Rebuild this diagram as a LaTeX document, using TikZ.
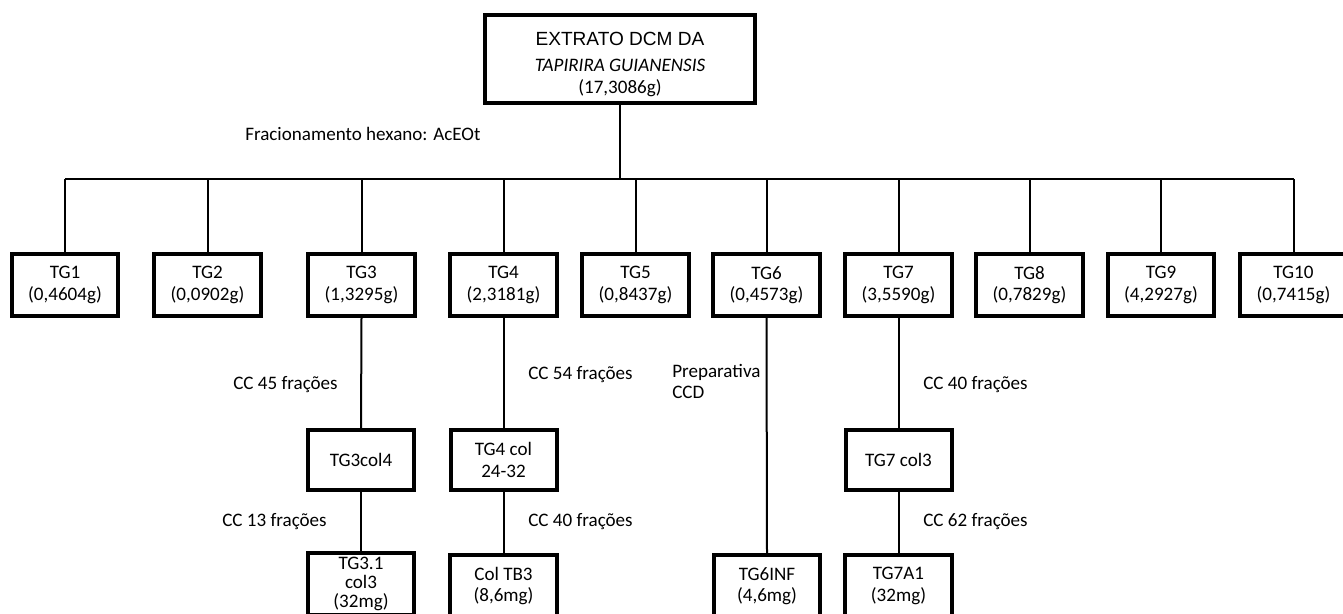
\documentclass[tikz,border=0pt]{standalone}
\usepackage{fontspec}
\setmainfont{Carlito}
\newfontfamily\arialf{Liberation Sans}
\begin{document}
\begin{tikzpicture}[x=0.75pt,y=-0.75pt,
  txt/.style={font=\fontsize{14.3}{16}\selectfont},
  box/.style={txt, draw, line width=3pt, rectangle, align=center, inner sep=0pt},
  rowbox/.style={box, minimum width=80pt, minimum height=46.5pt},
  subbox/.style={box, minimum width=79.5pt, minimum height=45pt},
  conn/.style={line width=1.5pt},
  lbl/.style={txt, inner sep=0pt, anchor=west, align=left}]
\useasboundingbox (0,0) rectangle (1343,614);
\clip (0,0) rectangle (1343,614);
% top
\node[box, minimum width=202.5pt, minimum height=66pt] (top) at (620,59)
  {\rule{0pt}{18pt}{\arialf\fontsize{14.3}{16}\selectfont EXTRATO DCM DA}\\[3.5pt]\textit{TAPIRIRA GUIANENSIS}\\(17,3086g)};
\coordinate (bus) at (620,179);
% row
\node[rowbox] (tg1) at (65,285) {TG1\\(0,4604g)};
\node[rowbox] (tg2) at (207.5,285) {TG2\\(0,0902g)};
\node[rowbox] (tg3) at (361.5,285) {TG3\\(1,3295g)};
\node[rowbox] (tg4) at (503.5,285) {TG4\\(2,3181g)};
\node[rowbox] (tg5) at (635.5,285) {TG5\\(0,8437g)};
\node[rowbox] (tg6) at (766.5,285) {TG6\\(0,4573g)};
\node[rowbox] (tg7) at (898.5,285) {TG7\\(3,5590g)};
\node[rowbox] (tg8) at (1029.5,285) {TG8\\(0,7829g)};
\node[rowbox] (tg9) at (1161,285) {TG9\\(4,2927g)};
\node[rowbox] (tg10) at (1293.5,285) {TG10\\(0,7415g)};
% second level
\node[subbox] (tg3c) at (361,460) {TG3col4};
\node[subbox] (tg4c) at (503.5,460) {TG4 col\\24-32};
\node[subbox] (tg7c) at (898.5,460) {TG7 col3};
% third level
\node[rowbox] (tg31) at (361,584) {TG3.1\\[-1.5pt]col3\\[-1.5pt](32mg)};
\node[rowbox] (tb3) at (503.5,586) {Col TB3\\(8,6mg)};
\node[rowbox] (tg6i) at (767,586) {TG6INF\\(4,6mg)};
\node[rowbox] (tg7a) at (898.5,586) {TG7A1\\(32mg)};
% connectors
\draw[conn] (top.south) -- (bus);
\draw[conn] (tg1.north |- bus) -- (tg10.north |- bus);
\foreach \n in {tg1,tg2,tg3,tg4,tg5,tg6,tg7,tg8,tg9,tg10}
  \draw[conn] (\n.north) -- (\n.north |- bus);
\draw[conn] (tg3.south) -- (tg3c.north);
\draw[conn] (tg3c.south) -- (tg31.north);
\draw[conn] (tg4.south) -- (tg4c.north);
\draw[conn] (tg4c.south) -- (tb3.north);
\draw[conn] (tg6.south) -- (tg6i.north);
\draw[conn] (tg7.south) -- (tg7c.north);
\draw[conn] (tg7c.south) -- (tg7a.north);
% labels
\node[lbl] (lf) at (245,134) {Fracionamento hexano: AcEOt};
\node[lbl] (l45) at (233,385) {CC 45 frações};
\node[lbl] (l13) at (222,522) {CC 13 frações};
\node[lbl] (l54) at (528,375) {CC 54 frações};
\node[lbl] (l40a) at (528,522) {CC 40 frações};
\node[lbl, anchor=north west] (lprep) at (672,364) {Preparativa\\CCD};
\node[lbl] (l40b) at (923,385) {CC 40 frações};
\node[lbl] (l62) at (923,522) {CC 62 frações};
\end{tikzpicture}
\end{document}
